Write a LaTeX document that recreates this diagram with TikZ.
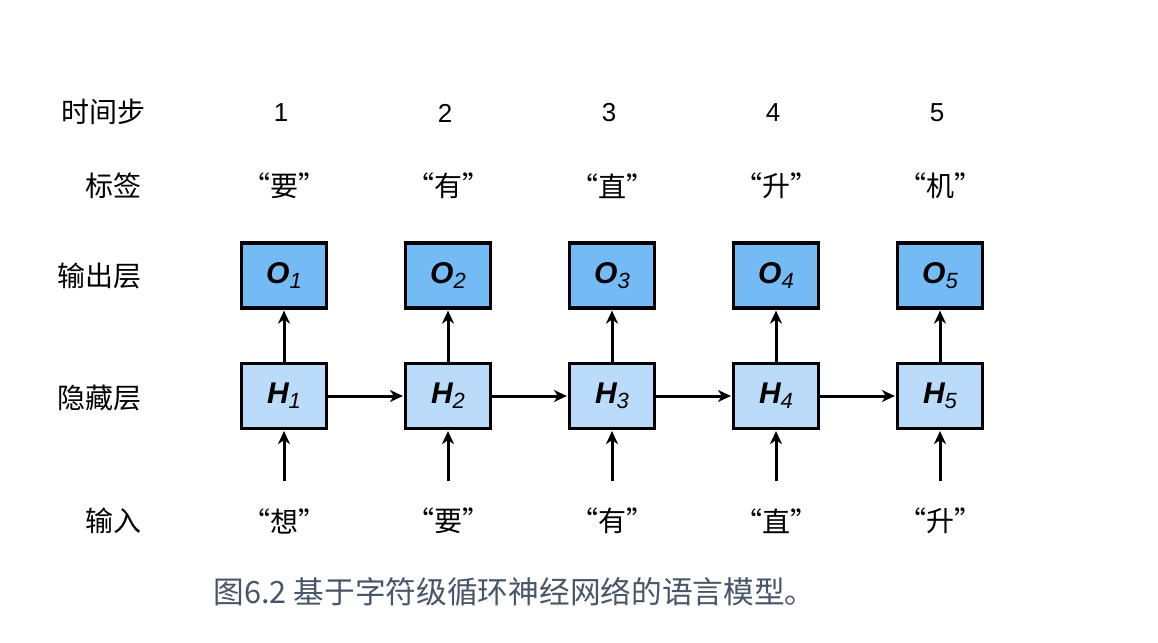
\documentclass[tikz,border=0pt]{standalone}
\usepackage{fontspec}
\setmainfont{Liberation Sans}
\newfontfamily\cjk{Noto Sans CJK SC}
\usetikzlibrary{arrows.meta}
\definecolor{ofill}{HTML}{74BBF6}
\definecolor{hfill}{HTML}{BBDBFA}
\definecolor{captc}{HTML}{485669}
\newcommand{\boxlab}[2]{{\fontsize{30}{32}\selectfont\bfseries\itshape #1}{\fontsize{22}{22}\selectfont\itshape\raisebox{-5pt}{#2}}}
\tikzset{
  cell/.style={draw=black, line width=3.2pt, minimum width=85pt, minimum height=65pt, inner sep=0pt},
  obox/.style={cell, fill=ofill},
  hbox/.style={cell, fill=hfill},
  rowlab/.style={anchor=east, font=\cjk\fontsize{28}{30}\selectfont},
  toplab/.style={font=\fontsize{26}{28}\selectfont},
  qlab/.style={font=\cjk\fontsize{28}{30}\selectfont},
  conn/.style={line width=3pt, -{Stealth[length=13pt,width=12pt,inset=4pt]}, shorten >=1pt}
}
\begin{document}
\begin{tikzpicture}[x=1pt,y=-1pt]
\useasboundingbox (0,0) rectangle (1158,642);
% row labels
\node[rowlab] (lt) at (149,112) {时间步};
\node[rowlab] (ll) at (145,186) {标签};
\node[rowlab] (lo) at (145,276) {输出层};
\node[rowlab] (lh) at (145,398) {隐藏层};
\node[rowlab] (li) at (145,521) {输入};
% columns
\foreach \i/\x/\lab/\inp in {1/284/要/想, 2/448/有/要, 3/612/直/有, 4/776/升/直, 5/940/机/升}{
  \node[toplab] (t\i) at (\x-3,113) {\i};
  \node[qlab] (q\i) at (\x,186) {“\lab”};
  \node[obox] (o\i) at (\x,275.5) {\boxlab{O}{\i}};
  \node[hbox] (h\i) at (\x,396) {\boxlab{H}{\i}};
  \node[qlab] (in\i) at (\x,521) {“\inp”};
  \coordinate (s\i) at (\x,481);
  \draw[conn] (h\i) -- (o\i);
  \draw[conn] (s\i) -- (h\i);
}
\foreach \i [evaluate=\i as \j using int(\i+1)] in {1,2,3,4}{
  \draw[conn] (h\i) -- (h\j);
}
\node[anchor=west, text=captc, font=\cjk\fontsize{30.7}{32}\selectfont] (cap) at (210,592) {图6.2 基于字符级循环神经网络的语言模型。};
\end{tikzpicture}
\end{document}
